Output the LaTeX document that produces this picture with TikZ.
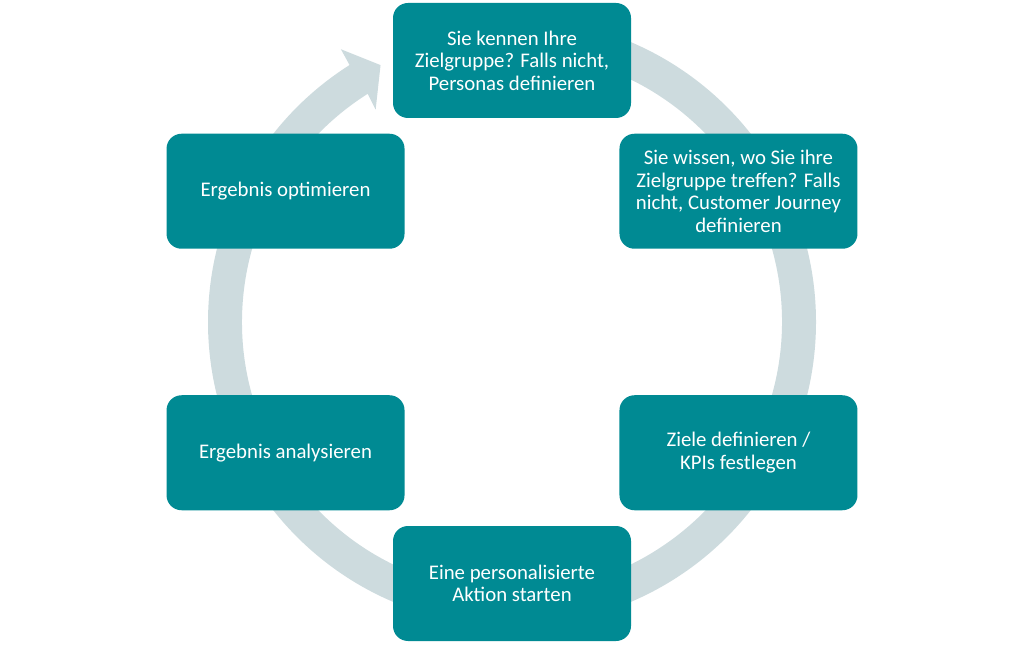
\documentclass[tikz,border=0pt]{standalone}
\usepackage{fontspec}
\setmainfont{Carlito}
\definecolor{boxteal}{RGB}{0,138,147}
\definecolor{ringgray}{RGB}{205,219,222}

\begin{document}
\begin{tikzpicture}[x=1pt,y=1pt,
    stepbox/.style={fill=boxteal, rounded corners=15pt, minimum width=238pt, minimum height=115pt, inner sep=0pt, align=center, text=white, font=\fontsize{20.8}{22.6}\selectfont}]
    \useasboundingbox (0,0) rectangle (1024,645);
    \begin{scope}[shift={(512,323)}]
    % ring with arrow head
    \fill[ringgray] (90:304) arc[start angle=90, end angle=-237.7, radius=304] -- (122.1:322) -- (117.1:288.6) -- (122.7:252.4) -- (122.3:270) arc[start angle=-237.7, end angle=90, radius=270] -- cycle;

    \node[stepbox] (persona) at (90:261.5) {Sie kennen Ihre\\Zielgruppe? Falls nicht,\\Personas definieren};
    \node[stepbox] (journey) at (30:261.5) {Sie wissen, wo Sie ihre\\Zielgruppe treffen? Falls\\nicht, Customer Journey\\definieren};
    \node[stepbox] (ziele) at (-30:261.5) {Ziele definieren /\\KPIs festlegen};
    \node[stepbox] (aktion) at (-90:261.5) {Eine personalisierte\\Aktion starten};
    \node[stepbox] (analyse) at (-150:261.5) {Ergebnis analysieren};
    \node[stepbox] (optimieren) at (150:261.5) {Ergebnis optimieren};
    \end{scope}
\end{tikzpicture}
\end{document}
